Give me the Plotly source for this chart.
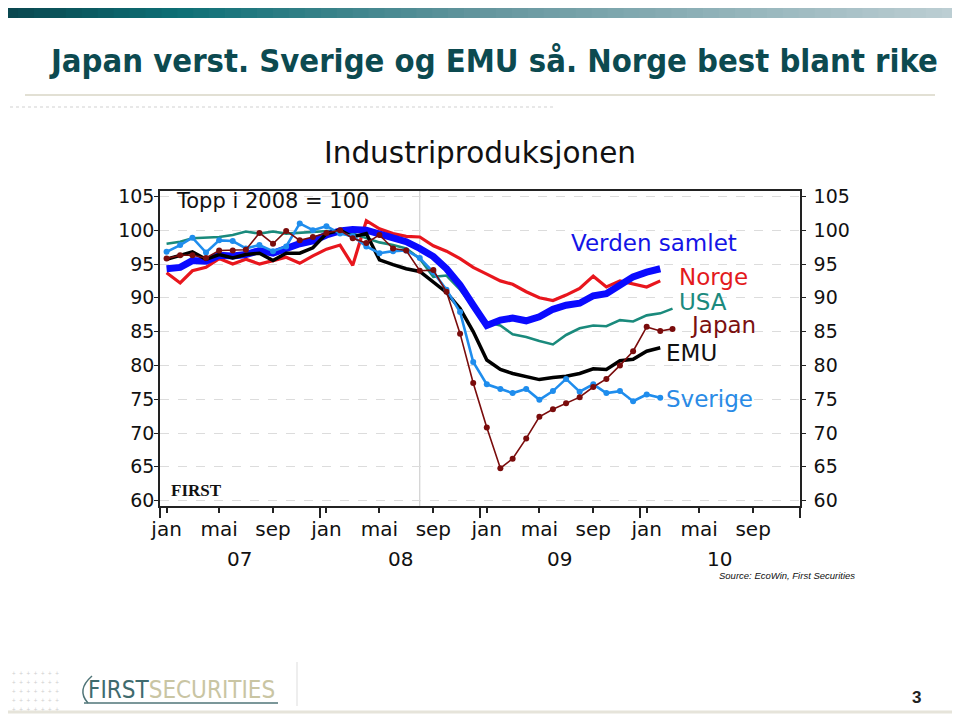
import plotly.graph_objects as go
import pandas as pd

# ---------------- data (index, peak 2008 = 100), monthly from Jan 2007 ----------------
months = pd.date_range("2007-01-01", periods=39, freq="MS") + pd.Timedelta(days=15)

verden = [94.3, 94.5, 95.5, 95.4, 96.3, 96.2, 96.4, 97.0, 96.6, 97.3, 98.0, 98.4,
          99.3, 99.9, 100.1, 100.0, 99.4, 98.9, 98.3, 97.3, 96.1, 94.3, 91.9, 88.9,
          85.9, 86.7, 87.0, 86.6, 87.2, 88.3, 88.9, 89.2, 90.3, 90.6, 91.9, 93.1,
          93.8, 94.3]
norge = [93.7, 92.2, 94.0, 94.5, 95.8, 95.0, 95.7, 95.0, 95.5, 96.0, 95.1, 96.2,
         97.2, 97.8, 94.8, 101.4, 100.2, 99.5, 99.1, 99.0, 97.7, 96.9, 95.8, 94.5,
         93.5, 92.5, 92.0, 90.9, 90.0, 89.6, 90.4, 91.4, 93.2, 91.6, 92.5, 92.1,
         91.6, 92.5]
usa = [98.0, 98.3, 98.8, 98.9, 99.0, 99.3, 99.8, 99.5, 99.8, 99.5, 99.6, 99.8,
       99.9, 100.0, 99.5, 98.8, 98.2, 97.8, 97.3, 95.8, 93.1, 93.3, 91.2, 88.6,
       86.4, 85.9, 84.6, 84.2, 83.6, 83.1, 84.5, 85.5, 85.9, 85.8, 86.7, 86.5,
       87.4, 87.7, 88.4]
japan = [95.8, 96.3, 96.3, 95.9, 97.0, 97.0, 97.1, 99.6, 98.0, 99.9, 98.5, 99.0,
         99.6, 100.0, 98.8, 98.1, 99.3, 97.3, 97.0, 94.0, 94.1, 90.9, 84.7, 77.4,
         70.8, 64.8, 66.2, 69.2, 72.4, 73.5, 74.4, 75.3, 76.8, 78.0, 80.0, 82.1,
         85.7, 85.1, 85.4]
emu = [95.7, 96.3, 96.8, 95.7, 96.4, 95.9, 96.4, 96.6, 95.5, 96.6, 96.6, 97.4,
       99.5, 100.0, 99.0, 99.5, 95.6, 94.9, 94.3, 93.9, 92.4, 90.8, 88.4, 85.0,
       80.8, 79.4, 78.8, 78.3, 77.9, 78.2, 78.4, 78.8, 79.5, 79.4, 80.7, 80.9,
       82.1, 82.6]
sverige = [96.8, 97.8, 98.9, 96.7, 98.5, 98.4, 97.3, 97.8, 96.9, 97.6, 101.0, 100.0,
           100.6, 99.5, 99.1, 97.6, 96.6, 96.9, 97.0, 95.9, 93.8, 91.2, 87.9, 80.5,
           77.2, 76.5, 75.9, 76.5, 74.9, 76.2, 78.0, 76.1, 77.2, 75.9, 76.2, 74.7,
           75.7, 75.2]

x_tick_vals = ["2007-01-16", "2007-05-16", "2007-09-16",
               "2008-01-16", "2008-05-16", "2008-09-16",
               "2009-01-16", "2009-05-16", "2009-09-16",
               "2010-01-16", "2010-05-16", "2010-09-16"]
x_tick_text = ["jan", "mai", "sep"] * 4
year_labels = ["07", "08", "09", "10"]
year_pos = ["2007-07-02", "2008-07-02", "2009-07-02", "2010-07-02"]
y_ticks = [60, 65, 70, 75, 80, 85, 90, 95, 100, 105]
crisis_line = "2008-08-16"

# ---------------- layout helpers ----------------
OFF = 8                      # page body margin offset
W, H = 960 - OFF, 716 - OFF
PX0, PX1, PY0, PY1 = 160 - OFF, 800 - OFF, 191 - OFF, 506 - OFF


def px(x):
    return (x - OFF - PX0) / (PX1 - PX0)


def py(y):
    return (PY1 - (y - OFF)) / (PY1 - PY0)


FONT = "DejaVu Sans"
fig = go.Figure()


def line_trace(y, color, width, markers=False):
    xs = months[:len(y)]
    return go.Scatter(
        x=xs, y=y, mode="lines+markers" if markers else "lines",
        line=dict(color=color, width=width),
        marker=dict(size=6, color=color) if markers else None,
        showlegend=False, hoverinfo="skip")


fig.add_trace(line_trace(norge, "#e8161d", 3.2))
fig.add_trace(line_trace(usa, "#1a8a7c", 2.6))
fig.add_trace(line_trace(verden, "#0a0aff", 7))
fig.add_trace(line_trace(emu, "#000000", 3.5))
fig.add_trace(line_trace(sverige, "#1f8ded", 2.6, markers=True))
fig.add_trace(line_trace(japan, "#7a0c0c", 1.6, markers=True))
# invisible trace to carry the right-hand axis
fig.add_trace(go.Scatter(x=months[:1], y=verden[:1], yaxis="y2", mode="markers",
                         marker=dict(opacity=0), showlegend=False, hoverinfo="skip"))

axis_col = "#222222"
fig.update_layout(
    width=W, height=H,
    margin=dict(l=PX0, r=W - PX1, t=PY0, b=H - PY1, pad=0),
    paper_bgcolor="white", plot_bgcolor="white",
    showlegend=False,
    xaxis=dict(type="date", range=["2007-01-01", "2011-01-01"],
               tickvals=x_tick_vals, ticktext=x_tick_text,
               ticks="outside", ticklen=5, tickwidth=1.5, tickcolor=axis_col,
               showline=True, linecolor=axis_col, linewidth=1.5, mirror=True,
               showgrid=False, zeroline=False, ticklabelstandoff=-1,
               tickfont=dict(family=FONT, size=20, color="#111"),
               minor=dict(dtick="M12", tick0="2007-01-01", ticks="outside",
                          ticklen=10, tickwidth=1.5, tickcolor=axis_col, showgrid=False)),
    yaxis=dict(range=[59.2, 105.8], tickvals=y_ticks, ticks="outside", ticklen=4,
               tickwidth=1.2, tickcolor=axis_col, showline=True, linecolor=axis_col,
               linewidth=1.5, showgrid=True, gridcolor="#dcdcdc", griddash="dash",
               gridwidth=1, zeroline=False, ticklabelstandoff=-4,
               tickfont=dict(family=FONT, size=19, color="#111")),
    yaxis2=dict(range=[59.2, 105.8], tickvals=y_ticks, overlaying="y", side="right",
                ticks="outside", ticklen=4, tickwidth=1.2, tickcolor=axis_col,
                showline=True, linecolor=axis_col, linewidth=1.5, showgrid=False,
                zeroline=False, ticklabelstandoff=4,
                tickfont=dict(family=FONT, size=19, color="#111")),
)

shapes = []
# header gradient bar
stops = [(0.0, (10, 72, 80)), (0.18, (14, 112, 118)), (0.5, (100, 150, 158)), (1.0, (188, 206, 211))]


def grad(t):
    for (t0, c0), (t1, c1) in zip(stops[:-1], stops[1:]):
        if t0 <= t <= t1:
            f = (t - t0) / (t1 - t0)
            return "rgb(%d,%d,%d)" % tuple(int(a + (b - a) * f) for a, b in zip(c0, c1))
    return "rgb(188,206,211)"


nseg = 60
for i in range(nseg):
    x0 = 2 + i * (956 / nseg)
    x1 = 2 + (i + 1) * (956 / nseg) + 0.8
    shapes.append(dict(type="rect", xref="paper", yref="paper",
                       x0=px(max(x0, OFF)), x1=px(max(x1, OFF)), y0=py(18), y1=py(OFF),
                       line=dict(width=0), fillcolor=grad(i / (nseg - 1)), layer="below"))
# rule under title
shapes.append(dict(type="line", xref="paper", yref="paper", x0=px(25), x1=px(935),
                   y0=py(95), y1=py(95), line=dict(color="#e2e0d4", width=2)))
# faint dotted row
shapes.append(dict(type="line", xref="paper", yref="paper", x0=px(10), x1=px(555),
                   y0=py(107), y1=py(107), line=dict(color="#e8e8e8", width=2, dash="dot")))
# vertical reference line
shapes.append(dict(type="line", xref="x", yref="paper", x0=crisis_line, x1=crisis_line,
                   y0=0, y1=1, line=dict(color="#c8c8c8", width=1), layer="below"))
# footer: divider, bottom rule, logo underline and bracket
shapes.append(dict(type="line", xref="paper", yref="paper", x0=px(297), x1=px(297),
                   y0=py(662), y1=py(706), line=dict(color="#dddddd", width=1)))
shapes.append(dict(type="line", xref="paper", yref="paper", x0=px(OFF), x1=px(960),
                   y0=py(712), y1=py(712), line=dict(color="#e6e4da", width=3)))
shapes.append(dict(type="line", xref="paper", yref="paper", x0=px(84), x1=px(278),
                   y0=py(703), y1=py(703), line=dict(color="#4f7477", width=1.5)))
shapes.append(dict(type="path", xref="paper", yref="paper",
                   path="M %f,%f Q %f,%f %f,%f" % (px(92), py(676), px(76), py(690), px(88), py(703)),
                   line=dict(color="#4f7477", width=1.5)))
fig.update_layout(shapes=shapes)

ann = []


def text(x, y, s, size, color="#111", family=FONT, xanchor="left", yanchor="middle", xref="paper"):
    ann.append(dict(x=px(x) if xref == "paper" else x, y=py(y), xref=xref, yref="paper",
                    text=s, showarrow=False, xanchor=xanchor, yanchor=yanchor,
                    font=dict(family=family, size=size, color=color)))


text(47, 61, "<b>Japan verst. Sverige og EMU så. Norge best blant rike</b>", 32.5, "#0c4a50",
     family="DejaVu Sans Condensed, Liberation Sans, sans-serif")
text(480, 153, "Industriproduksjonen", 29.5, "#111", xanchor="center")
text(174, 201, "Topp i 2008 = 100", 21, "#111")
text(169, 490, "<b>FIRST</b>", 17, "#111", family="Liberation Serif, Times New Roman, serif")
text(569, 243, "Verden samlet", 23, "#1414e6")
text(677, 277, "Norge", 23, "#e31a1c")
text(677, 302, "USA", 23, "#1b8a7e")
text(688, 325, "Japan", 23, "#7a1010")
text(664, 353, "EMU", 23, "#111111")
text(664, 399, "Sverige", 23, "#2a8be6")
for lab, pos in zip(year_labels, year_pos):
    text(pos, 559, lab, 20, "#111", xanchor="center", xref="x")
text(717, 575, "<i>Source: EcoWin, First Securities</i>", 9.5, "#111",
     family="Liberation Sans, Arial, sans-serif")
# footer
text(86, 690, "<span style='color:#3f6b6e'>FIRST</span><span style='color:#c9c5a3'>SECURITIES</span>",
     24, "#3f6b6e", family="DejaVu Sans Condensed, Liberation Sans, sans-serif")
text(916, 697, "<b>3</b>", 17, "#222", xanchor="center",
     family="Liberation Sans, sans-serif")
for r in range(5):
    text(10, 672 + r * 9, "+ + + + + + +", 6, "#cfcfcf", family="DejaVu Sans Mono")
fig.update_layout(annotations=ann)

fig.write_html("out.html")
